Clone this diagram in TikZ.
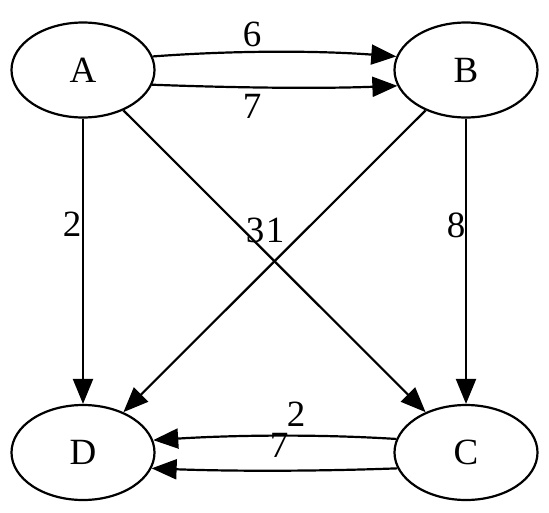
\documentclass[tikz,border=0pt]{standalone}
\usepackage{fontspec}
\setmainfont{Liberation Serif}
\usetikzlibrary{arrows.meta,shapes.geometric}
\begin{document}
\begin{tikzpicture}[x=1pt,y=-1pt,
  state/.style={draw,ellipse,minimum width=143pt,minimum height=95pt,inner sep=0pt,line width=2.2pt,font=\fontsize{37}{44}\selectfont},
  edge/.style={line width=2.2pt,-{Triangle[length=25pt,width=20pt]}},
  lbl/.style={font=\fontsize{37}{44}\selectfont,inner sep=0pt}]
\useasboundingbox (0,0) rectangle (549,512);
\node[state] (A) at (83,70) {A};
\node[state] (B) at (466,70) {B};
\node[state] (D) at (83,452.5) {D};
\node[state] (C) at (466,452.5) {C};
% A -> B (two)
\draw[edge] (A.11) .. controls +(80,-6) and +(-80,-6) .. (B.169);
\draw[edge] (A.-12) .. controls +(80,3) and +(-80,3) .. (B.-167);
% verticals
\draw[edge] (A) -- (D);
\draw[edge] (B) -- (C);
% diagonals
\draw[edge] (A) -- (C);
\draw[edge] (B) -- (D);
% C -> D (two)
\draw[edge] (C.169) .. controls +(-80,-5) and +(80,-5) .. (D.10);
\draw[edge] (C.-167) .. controls +(-80,3) and +(80,3) .. (D.-13);
% labels
\node[lbl] (l6) at (252,34) {6};
\node[lbl] (l7a) at (252,106) {7};
\node[lbl] (l2a) at (72,224) {2};
\node[lbl] (l8) at (456,225) {8};
\node[lbl] (l3) at (255,230) {3};
\node[lbl] (l1) at (275,230) {1};
\node[lbl] (l2b) at (296,414) {2};
\node[lbl] (l7b) at (279,445) {7};
\end{tikzpicture}
\end{document}
